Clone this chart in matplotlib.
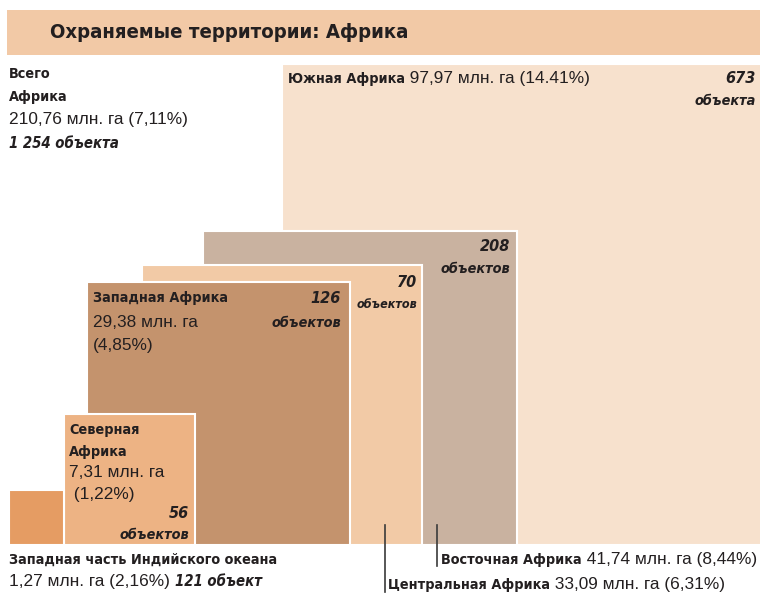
import numpy as np
import matplotlib.pyplot as plt
from matplotlib.patches import Rectangle
from matplotlib import font_manager

# данные
регионы = ['Южная Африка', 'Восточная Африка', 'Центральная Африка',
           'Западная Африка', 'Северная Африка', 'Западная часть Индийского океана']
площадь = [97.97, 41.74, 33.09, 29.38, 7.31, 1.27]       # млн. га
доля = ['14.41%', '8,44%', '6,31%', '4,85%', '1,22%', '2,16%']
площадь_txt = ['97,97', '41,74', '33,09', '29,38', '7,31', '1,27']
объекты = [673, 208, 70, 126, 56, 121]
объекты_txt = ['объекта', 'объектов', 'объектов', 'объектов', 'объектов', 'объект']
всего_площадь = '210,76'
всего_доля = '7,11%'
всего_объекты = '1 254'

цвета = ['#f7e1cd', '#c9b2a0', '#f2caa6', '#c4936d', '#edb384', '#e59c63']
лево = [282, 203, 142, 87, 64, 9]   # левый край квадратов, px
низ = 545
масштаб = 48.6  # px на sqrt(млн. га)

# узкий жирный шрифт, если есть
cond = [f for f in font_manager.fontManager.ttflist
        if f.name == 'DejaVu Sans' and 'ondensed' in str(f.stretch) + f.fname]
if cond:
    BOLD = dict(family='DejaVu Sans', stretch='condensed', weight='bold')
    bs = 10.4
    ts = 14.6
else:
    BOLD = dict(family='Liberation Sans', weight='bold')
    bs = 10.5
    ts = 15.5
ns = bs + 1.2   # крупные цифры
REG = 'Liberation Sans'
ТЕКСТ = '#231f20'

fig = plt.figure(figsize=(7.6, 5.93), dpi=100)
ax = fig.add_axes([0, 0, 1, 1])
ax.set_xlim(0, 760)
ax.set_ylim(593, 0)
ax.axis('off')

# заголовок
ax.add_patch(Rectangle((7, 10), 760, 45, color='#f2c9a6', lw=0))
ax.text(50, 33, 'Охраняемые территории: Африка', fontsize=ts,
        color=ТЕКСТ, va='center', **BOLD)

# квадраты
for i in range(len(площадь)):
    s = np.sqrt(площадь[i]) * масштаб
    ax.add_patch(Rectangle((лево[i], низ - s), s, s, facecolor=цвета[i],
                           edgecolor='white', lw=1.5))

renderer = fig.canvas.get_renderer()


def строка(x, y, куски):
    # куски: список (текст, стиль)
    for t, st in куски:
        kw = dict(color=ТЕКСТ, va='baseline')
        if st == 'b':
            kw.update(BOLD, fontsize=bs)
        elif st == 'bi':
            kw.update(BOLD, style='italic', fontsize=bs + 0.3)
        else:
            kw.update(family=REG, fontsize=12.4)
        tt = ax.text(x, y, t, **kw)
        bb = tt.get_window_extent(renderer)
        x += bb.width


def справа(x, y, t, size=None):
    ax.text(x, y, t, style='italic', fontsize=size or bs,
            color=ТЕКСТ, ha='right', va='baseline', **BOLD)


# всего
строка(9, 78, [('Всего', 'b')])
строка(9, 101, [('Африка', 'b')])
строка(9, 124, [(f'{всего_площадь} млн. га ({всего_доля})', 'r')])
строка(9, 148, [(f'{всего_объекты} объекта', 'bi')])

# Южная
строка(288, 83, [(регионы[0], 'b'), (f' {площадь_txt[0]} млн. га ({доля[0]})', 'r')])
справа(756, 83, str(объекты[0]), ns)
справа(756, 105, объекты_txt[0])

# Восточная
справа(510, 251, str(объекты[1]), ns)
справа(510, 273, объекты_txt[1])

# Центральная
справа(417, 287, str(объекты[2]), ns)
справа(417, 308, объекты_txt[2], bs - 1.4)

# Западная
строка(93, 302, [(регионы[3], 'b')])
строка(93, 327, [(f'{площадь_txt[3]} млн. га', 'r')])
строка(93, 350, [(f'({доля[3]})', 'r')])
справа(341, 303, str(объекты[3]), ns)
справа(341, 327, объекты_txt[3])

# Северная
строка(69, 434, [('Северная', 'b')])
строка(69, 456, [('Африка', 'b')])
строка(69, 477, [(f'{площадь_txt[4]} млн. га', 'r')])
строка(69, 499, [(f' ({доля[4]})', 'r')])
справа(189, 518, str(объекты[4]), ns)
справа(189, 539, объекты_txt[4])

# подписи снизу
строка(9, 564, [(регионы[5], 'b')])
строка(9, 586, [(f'{площадь_txt[5]} млн. га ({доля[5]}) ', 'r'),
                (f'{объекты[5]} {объекты_txt[5]}', 'bi')])
строка(441, 564, [(регионы[1], 'b'), (f' {площадь_txt[1]} млн. га ({доля[1]})', 'r')])
строка(388, 589, [(регионы[2], 'b'), (f' {площадь_txt[2]} млн. га ({доля[2]})', 'r')])

ax.plot([385, 385], [525, 592], color='#3a3a3a', lw=1.2)
ax.plot([437, 437], [525, 566], color='#3a3a3a', lw=1.2)

fig.savefig('out.png', dpi=100)
